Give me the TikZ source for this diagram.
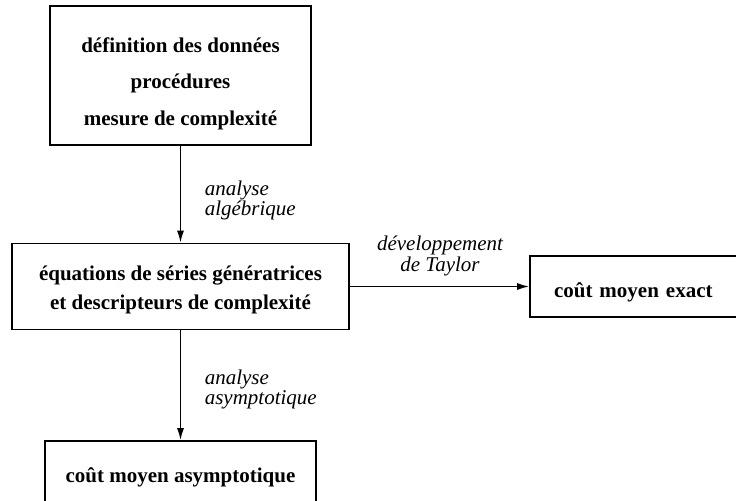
\documentclass[tikz,border=0pt]{standalone}
\usepackage{fontspec}
\setmainfont{Liberation Serif}
\usetikzlibrary{arrows.meta}

\begin{document}
\begin{tikzpicture}[x=0.5pt, y=-0.5pt, thick,
  boite/.style={draw, align=center, inner sep=0pt,
    font=\fontsize{10.5}{14.5}\selectfont\bfseries},
  etiq/.style={inner sep=0pt, font=\fontsize{10.5}{10}\selectfont\itshape},
  fleche/.style={-{Latex[length=6pt,width=3.5pt]}}]
  \useasboundingbox (0,0) rectangle (736,500);
  \clip (0,0) rectangle (736,500);

  \node[boite, minimum width=130.5pt, minimum height=69.5pt, text height=52pt,
    font=\fontsize{10.5}{18.25}\selectfont\bfseries] (def) at (180.5,75.5)
    {définition des données\\procédures\\mesure de complexité};
  \node[boite, minimum width=168.5pt, minimum height=43pt, text height=25.2pt]
    (eq) at (180.5,286.5)
    {équations de séries génératrices\\et descripteurs de complexité};
  \node[boite, minimum width=107.5pt, minimum height=30.5pt, text height=13.7pt,
    text width=83.5pt, align=left, inner xsep=12pt] (exact) at (637.5,286.5)
    {coût moyen exact};
  \node[boite, minimum width=135.5pt, minimum height=34pt, text height=9.7pt]
    (asym) at (180.5,475)
    {coût moyen asymptotique};

  \draw[fleche] (def) -- (eq);
  \draw[fleche] (eq) -- (exact);
  \draw[fleche] (eq) -- (asym);

  \node[etiq, align=left, anchor=west] (alg) at (204,200)
    {analyse\\algébrique};
  \node[etiq, align=center, font=\fontsize{10.5}{9}\selectfont\itshape]
    (tay) at (440,256) {développement\\de Taylor};
  \node[etiq, align=left, anchor=west] (asy) at (204,389)
    {analyse\\asymptotique};
\end{tikzpicture}
\end{document}
